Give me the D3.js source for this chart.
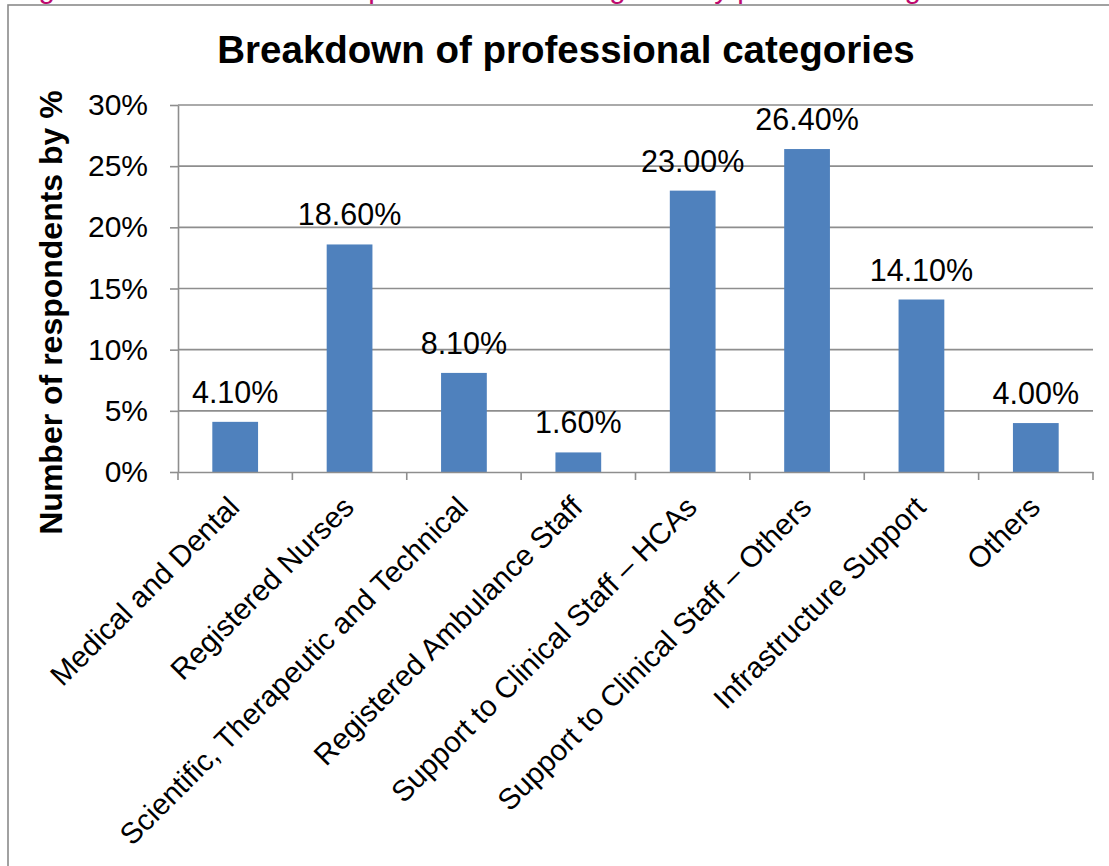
<!DOCTYPE html>
<html>
<head>
<meta charset="utf-8">
<script src="https://cdn.jsdelivr.net/npm/d3@7"></script>
<style>
  html, body { margin: 0; padding: 0; background: #fff; }
  svg { display: block; }
  text { font-family: "Liberation Sans", Arial, sans-serif; }
</style>
</head>
<body>
<svg id="chart" width="1109" height="866"></svg>
<script>
// Share of respondents in each professional category
const categories = [
  "Medical and Dental",
  "Registered Nurses",
  "Scientific, Therapeutic and Technical",
  "Registered Ambulance Staff",
  "Support to Clinical Staff \u2013 HCAs",
  "Support to Clinical Staff \u2013 Others",
  "Infrastructure Support",
  "Others"
];
const shares = [0.041, 0.186, 0.081, 0.016, 0.230, 0.264, 0.141, 0.040];
const valueLabels = ["4.10%", "18.60%", "8.10%", "1.60%", "23.00%", "26.40%", "14.10%", "4.00%"];
const yTicks = [0, 0.05, 0.10, 0.15, 0.20, 0.25, 0.30];

const chartTitle = "Breakdown of professional categories";
const yTitle = "Number of respondents by %";
const caption = "Figure 6: Breakdown of respondents into categories by professional grade";

const svg = d3.select("#chart");
const gridColor = "#8e8e8e";
const barColor = "#4f81bd";

const plot = { left: 178, right: 1093, top: 105, bottom: 472 };

const x = d3.scaleBand()
  .domain(categories)
  .range([plot.left, plot.right])
  .paddingInner(0.6)
  .paddingOuter(0.3);

const y = d3.scaleLinear()
  .domain([0, 0.30])
  .range([plot.bottom, plot.top]);

// caption line running above the chart frame (mostly off the top edge)
svg.append("text")
  .attr("x", 14)
  .attr("y", -2)
  .attr("fill", "#be0a6e")
  .style("font-size", "29.5px")
  .text(caption);

// chart frame
svg.append("rect")
  .attr("x", 8)
  .attr("y", 5)
  .attr("width", 1200)
  .attr("height", 900)
  .attr("fill", "none")
  .attr("stroke", "#8a8a8a")
  .attr("stroke-width", 1.6);

// title
svg.append("text")
  .attr("x", 566)
  .attr("y", 63)
  .attr("text-anchor", "middle")
  .style("font-size", "38.5px")
  .style("font-weight", "bold")
  .text(chartTitle);

// horizontal gridlines
svg.append("g")
  .selectAll("line")
  .data(yTicks.filter(d => d > 0))
  .join("line")
  .attr("x1", plot.left)
  .attr("x2", plot.right)
  .attr("y1", d => y(d))
  .attr("y2", d => y(d))
  .attr("stroke", gridColor)
  .attr("stroke-width", 1.6);

// y axis
const yAxis = svg.append("g")
  .attr("transform", `translate(${plot.left},0)`)
  .call(d3.axisLeft(y)
    .tickValues(yTicks)
    .tickFormat(d3.format(".0%"))
    .tickSize(8)
    .tickSizeOuter(0)
    .tickPadding(22));
yAxis.select(".domain").attr("stroke", gridColor).attr("stroke-width", 1.6);
yAxis.selectAll(".tick line").attr("stroke", gridColor).attr("stroke-width", 1.6);
yAxis.selectAll(".tick text")
  .attr("fill", "#000")
  .style("font-size", "30px")
  .style("font-family", "'Liberation Sans', Arial, sans-serif");

// y axis title
svg.append("text")
  .attr("transform", `translate(62,${(535 + 90) / 2}) rotate(-90)`)
  .attr("text-anchor", "middle")
  .style("font-size", "32px")
  .style("font-weight", "bold")
  .text(yTitle);

// bars
svg.append("g")
  .selectAll("rect")
  .data(categories)
  .join("rect")
  .attr("x", d => x(d))
  .attr("width", x.bandwidth())
  .attr("y", (d, i) => y(shares[i]))
  .attr("height", (d, i) => y(0) - y(shares[i]))
  .attr("fill", barColor);

// value labels
svg.append("g")
  .selectAll("text")
  .data(categories)
  .join("text")
  .attr("x", d => x(d) + x.bandwidth() / 2)
  .attr("y", (d, i) => y(shares[i]) - 19)
  .attr("text-anchor", "middle")
  .style("font-size", "30.5px")
  .text((d, i) => valueLabels[i]);

// x axis baseline
const xAxis = svg.append("g")
  .attr("transform", `translate(0,${plot.bottom})`)
  .call(d3.axisBottom(x).tickSize(0).tickSizeOuter(0).tickFormat(""));
xAxis.select(".domain").attr("stroke", gridColor).attr("stroke-width", 1.6);

// category boundary ticks
const boundaries = categories.map(c => x(c) - x.step() * x.paddingOuter())
  .concat([plot.right]);
svg.append("g")
  .selectAll("line")
  .data(boundaries)
  .join("line")
  .attr("x1", d => d)
  .attr("x2", d => d)
  .attr("y1", plot.bottom)
  .attr("y2", plot.bottom + 8)
  .attr("stroke", gridColor)
  .attr("stroke-width", 1.6);

// slanted category labels
svg.append("g")
  .selectAll("text")
  .data(categories)
  .join("text")
  .attr("transform", d => `translate(${x(d) + x.bandwidth() / 2 + 6},509) rotate(-45)`)
  .attr("text-anchor", "end")
  .style("font-size", "29.5px")
  .text(d => d);
</script>
</body>
</html>
